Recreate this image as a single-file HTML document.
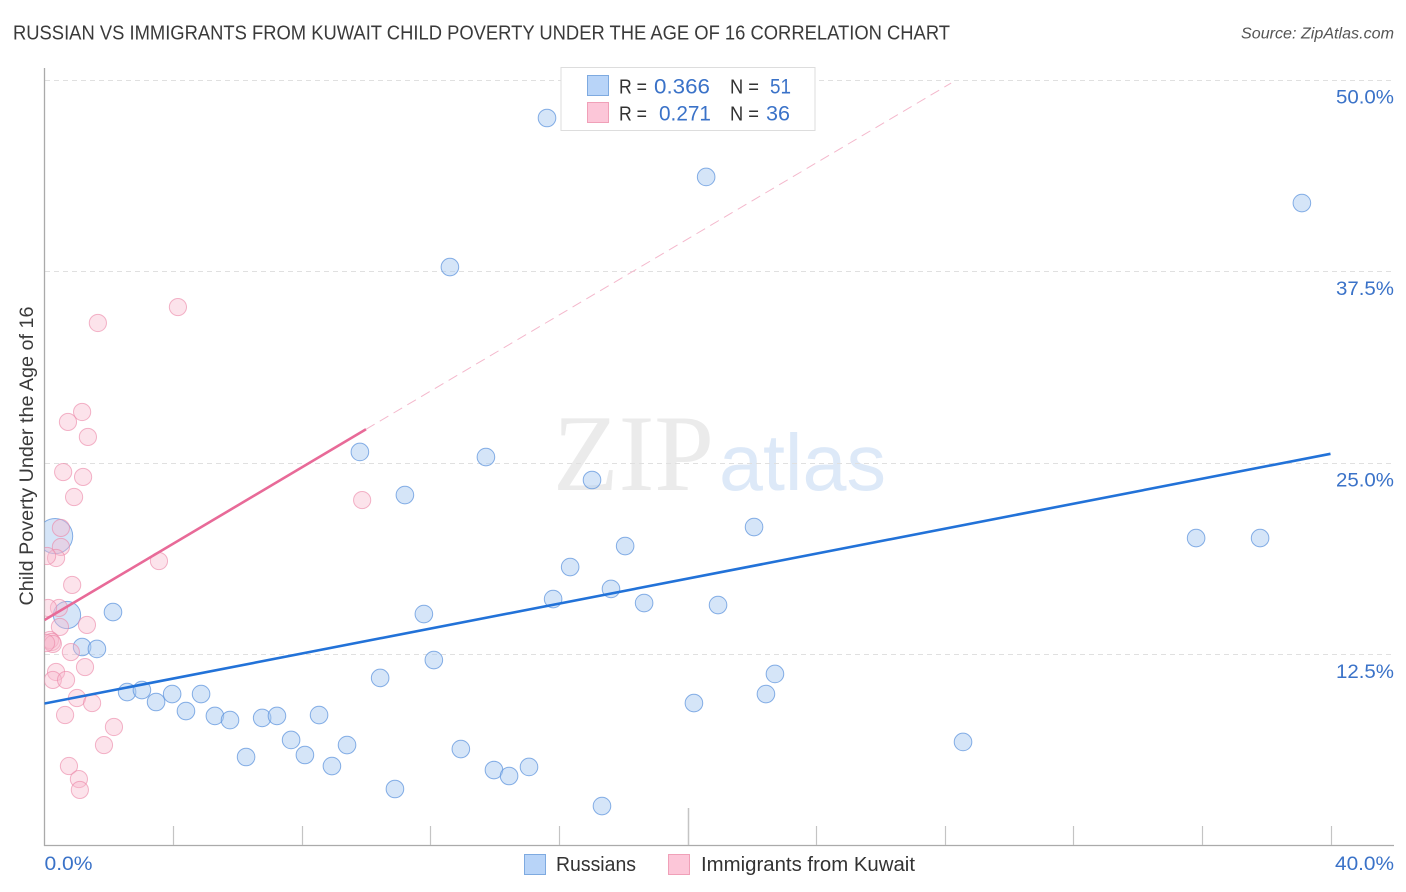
<!DOCTYPE html>
<html lang="en">
<head>
<meta charset="utf-8">
<title>Russian vs Immigrants from Kuwait Child Poverty Correlation Chart</title>
<style>
html,body{margin:0;padding:0;background:#fff;}
svg{display:block;font-family:"Liberation Sans",sans-serif;}
</style>
</head>
<body>
<svg id="chart" width="1406" height="892" viewBox="0 0 1406 892" xmlns="http://www.w3.org/2000/svg">
  <defs>
    <clipPath id="plot-clip"><rect x="44.5" y="60" width="1350" height="785"/></clipPath>
  </defs>
  <text x="13" y="39.5" font-size="20" fill="#3a3a3a" textLength="937" lengthAdjust="spacingAndGlyphs">RUSSIAN VS IMMIGRANTS FROM KUWAIT CHILD POVERTY UNDER THE AGE OF 16 CORRELATION CHART</text>
  <text x="1241" y="38.5" font-size="15.5" font-style="italic" fill="#555" textLength="153" lengthAdjust="spacingAndGlyphs">Source: ZipAtlas.com</text>

  <text x="553" y="490" font-family="'Liberation Serif',serif" font-size="109" fill="#ebebeb" textLength="161" lengthAdjust="spacingAndGlyphs">ZIP</text>
  <text x="719" y="490" font-size="80" fill="#dde9f8" textLength="167" lengthAdjust="spacingAndGlyphs">atlas</text>

  <g id="grid"></g>
  <g id="axes"></g>
  <g id="marks" clip-path="url(#plot-clip)"></g>
  <g id="lines" clip-path="url(#plot-clip)"></g>
  <g id="tick-labels"></g>

  <text transform="translate(33,456) rotate(-90)" font-size="19" fill="#3a3a3a" text-anchor="middle" textLength="299" lengthAdjust="spacingAndGlyphs">Child Poverty Under the Age of 16</text>

  <g>
    <rect x="561" y="67.5" width="254" height="63" fill="#fff" stroke="#ddd" stroke-width="1"/>
    <rect x="587.5" y="75.5" width="21" height="20" fill="#b8d4f8" stroke="#7eaae0"/>
    <rect x="587.5" y="102.5" width="21" height="20" fill="#fcc6d8" stroke="#f0a0b8"/>
    <text x="619" y="93.5" font-size="20" fill="#333" textLength="28" lengthAdjust="spacingAndGlyphs">R =</text>
    <text x="654" y="93.5" font-size="21.5" fill="#3a72c8" textLength="56" lengthAdjust="spacingAndGlyphs">0.366</text>
    <text x="730" y="93.5" font-size="20" fill="#333" textLength="29" lengthAdjust="spacingAndGlyphs">N =</text>
    <text x="770" y="93.5" font-size="21.5" fill="#3a72c8" textLength="21" lengthAdjust="spacingAndGlyphs">51</text>
    <text x="619" y="120.5" font-size="20" fill="#333" textLength="28" lengthAdjust="spacingAndGlyphs">R =</text>
    <text x="659" y="120.5" font-size="21.5" fill="#3a72c8" textLength="52" lengthAdjust="spacingAndGlyphs">0.271</text>
    <text x="730" y="120.5" font-size="20" fill="#333" textLength="29" lengthAdjust="spacingAndGlyphs">N =</text>
    <text x="766" y="120.5" font-size="21.5" fill="#3a72c8" textLength="24" lengthAdjust="spacingAndGlyphs">36</text>
  </g>

  <g>
    <g>
      <rect x="524.5" y="854.5" width="21" height="20" fill="#b8d4f8" stroke="#7eaae0"/>
      <text x="556" y="871" font-size="20" fill="#333" textLength="80" lengthAdjust="spacingAndGlyphs">Russians</text>
    </g>
    <g>
      <rect x="668.5" y="854.5" width="21" height="20" fill="#fcc6d8" stroke="#f0a0b8"/>
      <text x="701" y="871" font-size="20" fill="#333" textLength="214" lengthAdjust="spacingAndGlyphs">Immigrants from Kuwait</text>
    </g>
  </g>
</svg>
<script>
const russianX = [15.63,20.58,39.11,12.61,9.81,13.73,11.21,17.03,22.07,35.82,37.81,18.06,16.35,17.62,15.82,18.65,20.95,11.80,2.13,0.70,0.33,1.17,1.63,12.11,10.44,22.72,22.44,2.57,3.03,3.47,3.97,4.87,4.40,5.30,5.77,6.77,7.23,8.54,20.20,6.27,7.67,8.10,8.94,9.41,10.90,12.95,13.98,14.45,15.07,17.34,28.57];
const russianY = [47.52,43.67,41.97,37.79,25.72,25.39,22.91,23.89,20.82,20.10,20.10,19.58,18.21,16.78,16.12,15.86,15.73,15.14,15.27,15.08,20.23,12.99,12.86,12.14,10.97,11.23,9.92,10.05,10.18,9.40,9.92,9.92,8.81,8.49,8.22,8.36,8.49,8.55,9.33,5.81,6.92,5.94,5.22,6.59,3.72,6.33,4.96,4.57,5.16,2.61,6.79];
const russianWeight = [1,1,1,1,1,1,1,1,1,1,1,1,1,1,1,1,1,1,1,2.4,4,1,1,1,1,1,1,1,1,1,1,1,1,1,1,1,1,1,1,1,1,1,1,1,1,1,1,1,1,1,1];
const kuwaitX = [4.15,1.66,1.17,0.73,1.35,0.58,1.20,0.92,9.88,0.51,0.51,0.36,0.08,3.56,0.86,0.45,0.11,0.48,1.32,0.17,0.23,0.26,0.05,0.82,1.26,0.36,0.26,0.67,1.01,1.48,0.64,2.16,1.85,0.76,1.07,1.10];
const kuwaitY = [35.18,34.14,28.33,27.68,26.70,24.41,24.09,22.78,22.58,20.76,19.52,18.80,18.93,18.60,17.04,15.54,15.54,14.30,14.43,13.45,13.32,13.19,13.25,12.66,11.68,11.36,10.84,10.84,9.66,9.33,8.55,7.77,6.59,5.22,4.37,3.66];
const russianTrend = [9.3, 25.6];
const russianTrendX = [0, 40];
const kuwaitTrend = [14.75, 27.2, 49.8];
const kuwaitTrendX = [0, 10, 28.2];
const yTicks = [12.5, 25, 37.5, 50];
const yTickLabels = ['12.5%', '25.0%', '37.5%', '50.0%'];
const xTicks = [4, 8, 12, 16, 20, 24, 28, 32, 36, 40];
const xEndValues = [0, 40];
const xEndLabels = ['0.0%', '40.0%'];

const NS = 'http://www.w3.org/2000/svg';
const sx = v => 44.5 + v * 32.15;
const sy = v => 846 - v * 15.32;
function make(tag, parent, attrs) {
  const el = document.createElementNS(NS, tag);
  for (const k in attrs) el.setAttribute(k, attrs[k]);
  document.getElementById(parent).appendChild(el);
  return el;
}

yTicks.forEach((v, i) => {
  const gy = Math.floor(sy(v)) + 0.5;
  const g = make('line', 'grid', {x1: 45, x2: 1394, y1: gy, y2: gy, stroke: '#e0e0e0', 'stroke-width': 1, 'stroke-dasharray': '5 4'});
  
  
  const t = make('text', 'tick-labels', {x: 1394, y: sy(v) + 23.5, 'font-size': 19, fill: '#3a72c8', 'text-anchor': 'end', textLength: 58, lengthAdjust: 'spacingAndGlyphs'});
  t.textContent = yTickLabels[i];
  
  
});

const yAxis = make('line', 'axes', {x1: 44.5, x2: 44.5, y1: 68, y2: 846, stroke: '#aaa', 'stroke-width': 1.3});


const xAxis = make('line', 'axes', {x1: 44, x2: 1394, y1: 845.5, y2: 845.5, stroke: '#aaa', 'stroke-width': 1.3});



xTicks.forEach((v, i) => {
  const x = Math.round(sx(v)) + 0.5;
  const tick = make('line', 'axes', {x1: x, x2: x, y1: i === 4 ? 808 : 826, y2: 845, stroke: '#c4c4c4', 'stroke-width': i === 4 ? 1.5 : 1.2});
  
  
});

xEndValues.forEach((v, i) => {
  const t = make('text', 'tick-labels', {x: i === 0 ? sx(v) : 1394, y: 870, 'font-size': 19, fill: '#3a72c8', 'text-anchor': i === 0 ? 'start' : 'end', textLength: i === 0 ? 48 : 59, lengthAdjust: 'spacingAndGlyphs'});
  t.textContent = xEndLabels[i];
  
  
});

russianX.forEach((v, i) => {
  const c = make('circle', 'marks', {cx: sx(v), cy: sy(russianY[i]), r: 8.8 * Math.sqrt(russianWeight[i]), fill: '#a8c8f0', 'fill-opacity': 0.48, stroke: '#5a92dc', 'stroke-opacity': 0.72, 'stroke-width': 1});
  
  
});
kuwaitX.forEach((v, i) => {
  const c = make('circle', 'marks', {cx: sx(v), cy: sy(kuwaitY[i]), r: 8.6, fill: '#f8b8cc', 'fill-opacity': 0.4, stroke: '#ec88a8', 'stroke-opacity': 0.62, 'stroke-width': 1});
  
  
});

const blueLine = make('line', 'lines', {x1: sx(russianTrendX[0]), y1: sy(russianTrend[0]), x2: sx(russianTrendX[1]), y2: sy(russianTrend[1]), stroke: '#2272d8', 'stroke-width': 2.6});


const pinkLine = make('line', 'lines', {x1: sx(kuwaitTrendX[0]), y1: sy(kuwaitTrend[0]), x2: sx(kuwaitTrendX[1]), y2: sy(kuwaitTrend[1]), stroke: '#e86a98', 'stroke-width': 2.6});


const pinkDash = make('line', 'lines', {x1: sx(kuwaitTrendX[1]), y1: sy(kuwaitTrend[1]), x2: sx(kuwaitTrendX[2]), y2: sy(kuwaitTrend[2]), stroke: '#f4b8cc', 'stroke-width': 1, 'stroke-dasharray': '10 6'});


</script>
</body>
</html>
